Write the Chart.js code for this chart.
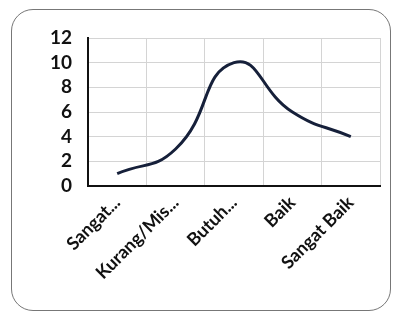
<!DOCTYPE html>
<html>
<head>
<meta charset="utf-8">
<script src="https://cdn.jsdelivr.net/npm/chart.js@4"></script>
<style>
    html, body { margin: 0; padding: 0; background: #fff; }
    #wrap { position: relative; width: 400px; height: 315px; }
    #frame {
        position: absolute; left: 11px; top: 9px; width: 380px; height: 302px;
        border: 1.5px solid #777; border-radius: 22px; box-sizing: border-box;
    }
    canvas { position: absolute; left: 0; top: 0; }
</style>
</head>
<body>
<div id="wrap">
    <div id="frame"></div>
    <canvas id="lineChart" width="400" height="315"></canvas>
</div>
<script>
const categories = ["Sangat...", "Kurang/Mis...", "Butuh...", "Baik", "Sangat Baik"];
const values = [1, 3, 10, 6, 4];
const yTicks = [0, 2, 4, 6, 8, 10, 12];

const ctx = document.getElementById("lineChart").getContext("2d");

new Chart(ctx, {
    type: "line",
    data: {
        labels: categories,
        datasets: [{
            data: values,
            borderColor: "#16203a",
            borderWidth: 3,
            tension: 0.5,
            pointRadius: 0,
            fill: false
        }]
    },
    options: {
        responsive: false,
        animation: false,
        layout: { padding: { top: 38, right: 20, left: 0, bottom: 0 } },
        plugins: { legend: { display: false }, tooltip: { enabled: false } },
        scales: {
            x: {
                offset: true,
                grid: { offset: true, color: "#d4d4d4", lineWidth: 1, drawTicks: false },
                border: { color: "#111", width: 2 },
                ticks: {
                    color: "#111",
                    font: { family: "Lato", weight: "bold", size: 18 },
                    maxRotation: 45, minRotation: 45, padding: 6, autoSkip: false
                },
                afterFit: scale => { scale.height = 129; }
            },
            y: {
                min: 0, max: 12,
                afterBuildTicks: scale => { scale.ticks = yTicks.map(v => ({ value: v })); },
                grid: { color: "#d4d4d4", lineWidth: 1, drawTicks: false },
                border: { color: "#111", width: 2 },
                ticks: {
                    color: "#111",
                    font: { family: "Lato", weight: "bold", size: 19 },
                    padding: 16,
                    autoSkip: false
                },
                afterFit: scale => { scale.width = 88; }
            }
        }
    }
});
</script>
</body>
</html>
